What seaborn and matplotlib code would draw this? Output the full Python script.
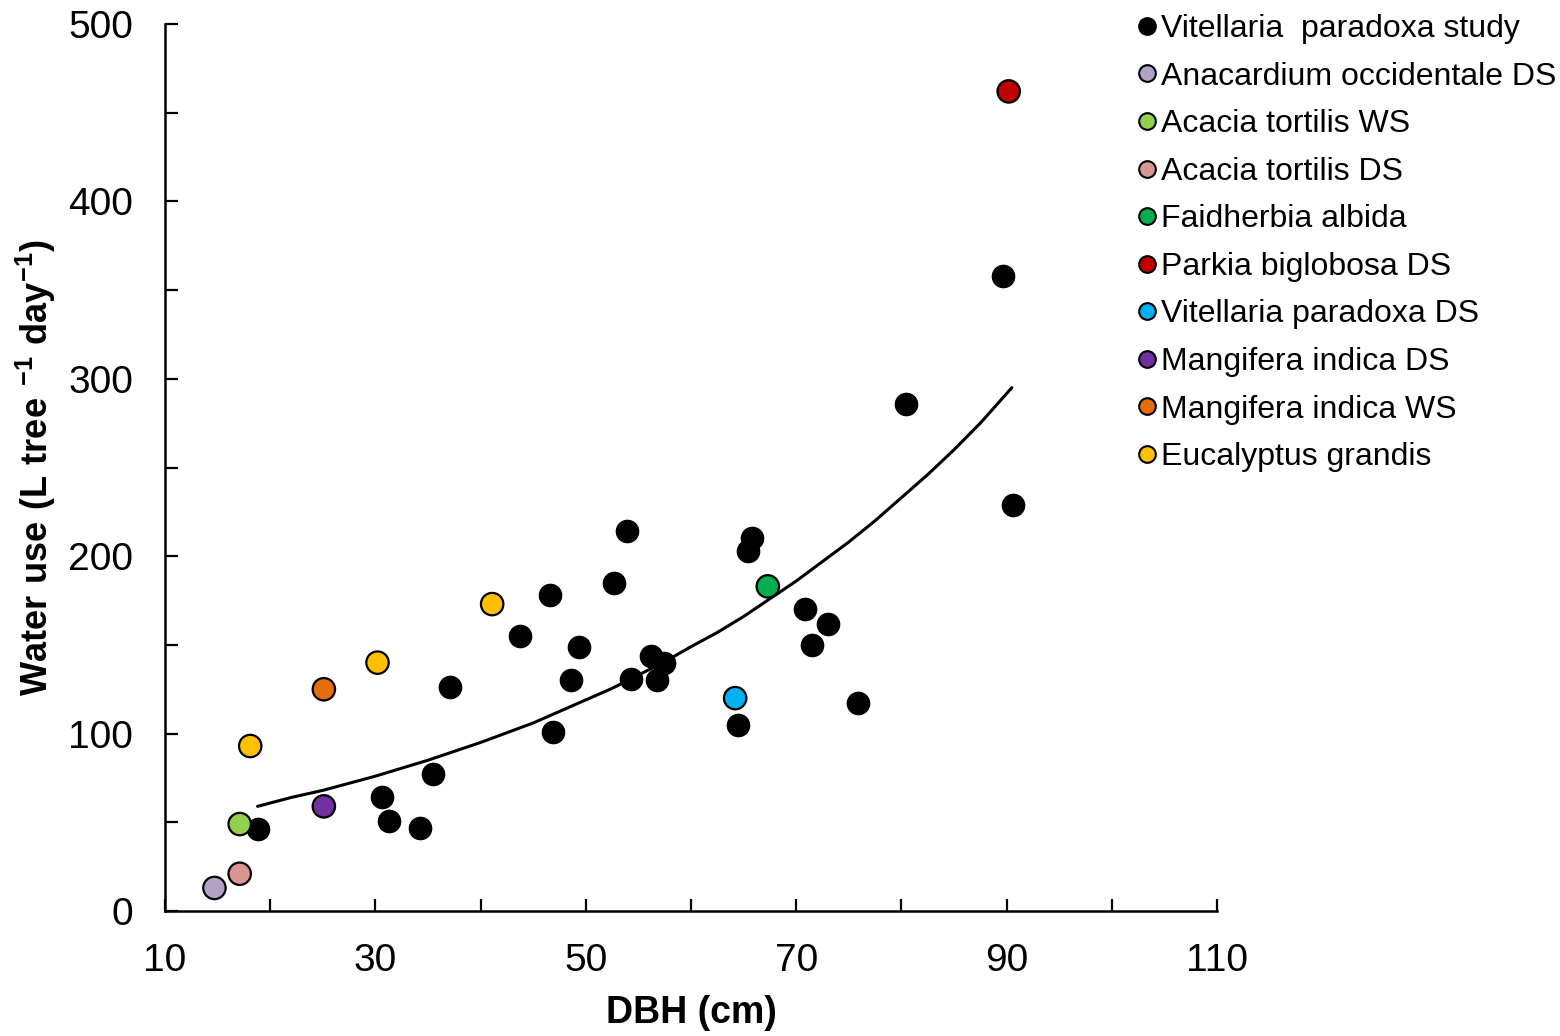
import matplotlib
matplotlib.use('Agg')
import matplotlib.pyplot as plt
from matplotlib.lines import Line2D
import seaborn as sns
import pandas as pd

# --- Data ---
# Vitellaria paradoxa (this study)
study_dbh = [18.8, 30.6, 31.3, 34.2, 35.5, 37.1, 43.7, 46.6, 46.9, 48.6, 49.4, 52.7, 53.9, 54.3,
             56.2, 56.8, 57.4, 64.5, 65.4, 65.8, 70.8, 71.5, 73.0, 75.9, 80.4, 89.7, 90.6]
study_use = [46, 64, 51, 47, 77, 126, 155, 178, 101, 130, 149, 185, 214, 131,
             144, 130, 140, 105, 203, 210, 170, 150, 162, 117, 286, 358, 229]

# literature values
lit_species = ["Anacardium occidentale DS", "Acacia tortilis WS", "Acacia tortilis DS",
               "Faidherbia albida", "Parkia biglobosa DS", "Vitellaria paradoxa DS",
               "Mangifera indica DS", "Mangifera indica WS",
               "Eucalyptus grandis", "Eucalyptus grandis", "Eucalyptus grandis"]
lit_dbh = [14.7, 17.1, 17.1, 67.3, 90.2, 64.2, 25.1, 25.1, 18.1, 30.2, 41.1]
lit_use = [13, 49, 21, 183, 462, 120, 59, 125, 93, 140, 173]

# trend line
fit_dbh = [18.8, 22, 25, 27.5, 30, 32.5, 35, 37.5, 40, 42.5, 45, 47.5, 50, 52.5, 55, 57.5,
           60, 62.5, 65, 67.5, 70, 72.5, 75, 77.5, 80, 82.5, 85, 87.5, 90.5]
fit_use = [59, 64, 68, 72, 76, 80.5, 85, 90, 95, 100.5, 106, 112.5, 119, 125.5, 133, 140.5,
           149, 157, 166, 176, 186, 197, 208, 220, 233, 246, 260, 275, 295]

legend_order = ["Vitellaria  paradoxa study", "Anacardium occidentale DS", "Acacia tortilis WS",
                "Acacia tortilis DS", "Faidherbia albida", "Parkia biglobosa DS",
                "Vitellaria paradoxa DS", "Mangifera indica DS", "Mangifera indica WS",
                "Eucalyptus grandis"]
colors = ["#000000", "#B3A2C7", "#92D050", "#D99694", "#00B050", "#C00000",
          "#00B0F0", "#7030A0", "#E46C0A", "#FFC000"]
palette = dict(zip(legend_order, colors))

sns.set_style("white")
plt.rcParams['font.family'] = ['Liberation Sans', 'DejaVu Sans']
plt.rcParams['text.color'] = 'black'
plt.rcParams['axes.labelcolor'] = 'black'
plt.rcParams['xtick.color'] = 'black'
plt.rcParams['ytick.color'] = 'black'
plt.rcParams['mathtext.fontset'] = 'custom'
plt.rcParams['mathtext.rm'] = 'Liberation Sans'
plt.rcParams['mathtext.bf'] = 'Liberation Sans:bold'

fig = plt.figure(figsize=(15.6, 10.36), dpi=100)
ax = fig.add_axes([165 / 1560, 1 - 911 / 1036, (1217 - 165) / 1560, (911 - 24) / 1036])

# trend line under the points
sns.lineplot(x=fit_dbh, y=fit_use, color='black', linewidth=2.2, ax=ax, zorder=2)

study_df = pd.DataFrame({"dbh": study_dbh, "use": study_use})
sns.scatterplot(data=study_df, x="dbh", y="use", color='black', s=290,
                edgecolor='black', linewidth=0, ax=ax, zorder=3, legend=False)

lit_df = pd.DataFrame({"species": lit_species, "dbh": lit_dbh, "use": lit_use})
sns.scatterplot(data=lit_df, x="dbh", y="use", hue="species", palette=palette,
                s=260, edgecolor='black', linewidth=1.6, ax=ax, zorder=4, legend=False)

ax.set_xlim(10, 110)
ax.set_ylim(0, 500)
ax.set_xticks(range(10, 111, 20))
ax.set_xticks(range(20, 101, 20), minor=True)
ax.set_yticks(range(0, 501, 100))
ax.set_yticks(range(50, 451, 100), minor=True)
ax.tick_params(axis='both', which='both', direction='in', length=9, width=1.6,
               bottom=True, left=True, colors='black', labelsize=28, pad=23)

for side in ['top', 'right']:
    ax.spines[side].set_visible(False)
for side in ['left', 'bottom']:
    ax.spines[side].set_linewidth(1.8)
    ax.spines[side].set_color('black')

ax.set_xlabel("DBH (cm)", fontsize=27, fontweight='bold')
ax.set_ylabel(r"$\mathbf{Water\ use\ (L\ tree\ ^{-1}\ day^{-1})}$", fontsize=26)
ax.xaxis.set_label_coords(0.5, -0.095)
ax.yaxis.set_label_coords(-0.102, 0.5)

handles = [Line2D([], [], marker='o', linestyle='', markersize=12,
                  markerfacecolor=c, markeredgecolor='black', markeredgewidth=1.5)
           for c in colors]
fig.legend(handles, legend_order, loc='upper left', bbox_to_anchor=(1137 / 1560, 1 - 14 / 1036),
           frameon=False, fontsize=23, handlelength=0.6, handletextpad=0.15,
           labelspacing=0.55, borderpad=0, borderaxespad=0)

plt.savefig("out.png", dpi=100)
plt.close()
